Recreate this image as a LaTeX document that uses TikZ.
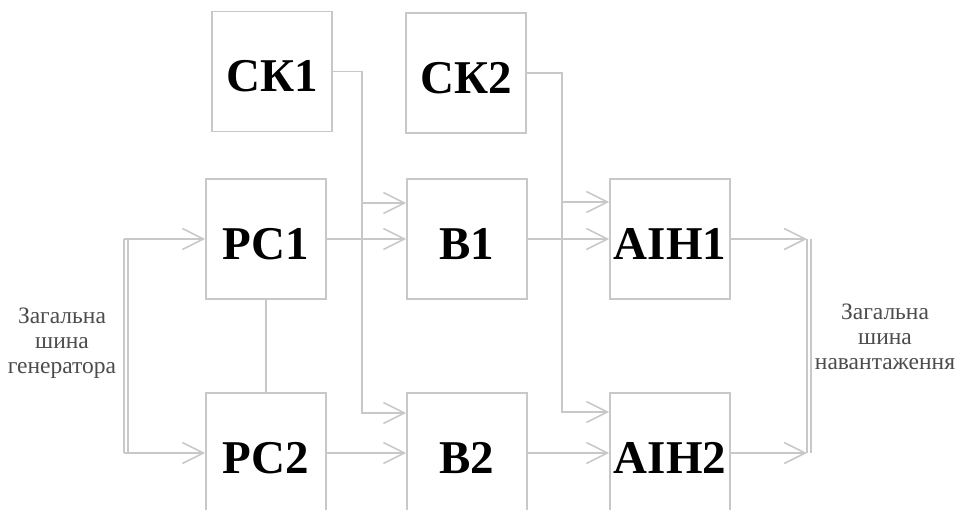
\documentclass[tikz,border=0pt]{standalone}
\usepackage{fontspec}
\setmainfont{Liberation Serif}
\usetikzlibrary{arrows.meta}
\definecolor{linegray}{RGB}{200,200,200}
\begin{document}
\begin{tikzpicture}[x=1pt,y=-1pt,
  unit/.style={draw=linegray, line width=1.6pt, minimum width=120pt,
    minimum height=120pt, inner sep=0pt,
    font=\fontsize{47}{47}\selectfont\bfseries,
    text height=40pt, text depth=0pt},
  link/.style={draw=linegray, line width=1.6pt},
  flow/.style={link, -{Straight Barb[length=21pt,width=21pt,line width=1.6pt]}},
  caption/.style={align=center, font=\fontsize{23.5}{25}\selectfont, text=black!70}]
\useasboundingbox (0,0) rectangle (956,509);

% blocks
\node[unit] (ck1)  at (272,71.5) {СК1};
\node[unit] (ck2)  at (466,73)   {СК2};
\node[unit] (pc1)  at (266,239)  {РС1};
\node[unit] (b1)   at (467,239)  {В1};
\node[unit] (aih1) at (670,239)  {АІН1};
\node[unit] (pc2)  at (266,453)  {РС2};
\node[unit] (b2)   at (467,453)  {В2};
\node[unit] (aih2) at (670,453)  {АІН2};

% upper inputs of the B and AIH blocks
\coordinate (b1in)   at ([yshift=36pt]b1.west);
\coordinate (b2in)   at ([yshift=40pt]b2.west);
\coordinate (aih1in) at ([yshift=37pt]aih1.west);
\coordinate (aih2in) at ([yshift=41pt]aih2.west);
\coordinate (tapA) at (362,0);
\coordinate (tapB) at (562,0);

% generator bus
\coordinate (gTop) at (124,239);
\coordinate (gBot) at (124,453);
\draw[link] (gTop) -- (gBot);
\draw[link] ([xshift=4pt]gTop) -- ([xshift=4pt]gBot);
\draw[flow] (gTop) -- (pc1.west);
\draw[flow] (gBot) -- (pc2.west);

% load bus
\coordinate (lTop) at (807,239);
\coordinate (lBot) at (807,453);
\draw[link] (lTop) -- (lBot);
\draw[link] ([xshift=4pt]lTop) -- ([xshift=4pt]lBot);

% main chain
\draw[link] (pc1.south) -- (pc2.north);
\draw[flow] (pc1.east) -- (b1.west);
\draw[flow] (pc2.east) -- (b2.west);
\draw[flow] (b1.east) -- (aih1.west);
\draw[flow] (b2.east) -- (aih2.west);
\draw[flow] (aih1.east) -- (lTop);
\draw[flow] (aih2.east) -- (lBot);

% control signals
\draw[flow] (ck1.east) -- (tapA |- ck1.east) |- (b2in);
\draw[flow] (tapA |- b1in) -- (b1in);
\draw[flow] (ck2.east) -- (tapB |- ck2.east) |- (aih2in);
\draw[flow] (tapB |- aih1in) -- (aih1in);

% bus captions
\node[caption] (gcap) at (62,343) {Загальна\\шина\\генератора};
\node[caption] (lcap) at (885,337) {Загальна\\шина\\навантаження};
\end{tikzpicture}
\end{document}
